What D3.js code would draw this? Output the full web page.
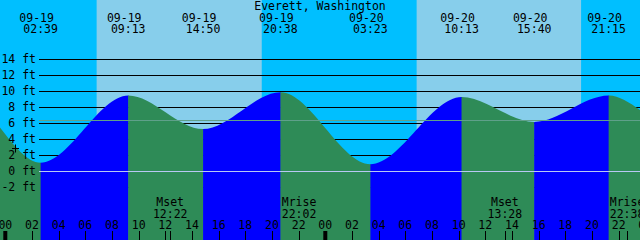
<!DOCTYPE html>
<html>
<head>
<meta charset="utf-8">
<script src="https://cdn.jsdelivr.net/npm/d3@7"></script>
<style>
  body { margin: 0; background: #fff; }
  svg { display: block; }
  text { font-family: "DejaVu Sans Mono", monospace; font-size: 11.5px; fill: #000; }
</style>
</head>
<body>
<div id="chart"></div>
<script>
// tide extremes (feet)
let tideDates = ["09-19", "09-19", "09-19", "09-19", "09-20", "09-20", "09-20", "09-20"];
let tideTimes = ["02:39", "09:13", "14:50", "20:38", "03:23", "10:13", "15:40", "21:15"];
let tideHeights = [1.1, 9.5, 5.3, 9.9, 0.9, 9.3, 6.2, 9.5];
// level where the curve leaves the left and right edges
let edgeHeights = [5.5, 7.7];

let sunrises = [["09-19", "06:51"], ["09-20", "06:51"]];
let sunsets = [["09-19", "19:14"], ["09-20", "19:11"]];

let moonEvents = ["Mset", "Mrise", "Mset", "Mrise"];
let moonDates = ["09-19", "09-19", "09-20", "09-20"];
let moonTimes = ["12:22", "22:02", "13:28", "22:38"];

let levelTicks = [14, 12, 10, 8, 6, 4, 2, 0, -2];
let meanLevel = 6.4;
let nowMark = ["09-19", "00:45", 3.0];

let width = 640, height = 240;

function toHours(date, time) {
  let day = +date.split("-")[1] - 19;
  let [hh, mm] = time.split(":").map(Number);
  return day * 24 + hh + mm / 60;
}

let x = d3.scaleLinear().domain([0, 48]).range([5.3, 645.3]);
let y = d3.scaleLinear().domain([0, 14]).range([171.5, 59.5]);

let svg = d3
  .select("#chart")
  .append("svg")
  .attr("width", width)
  .attr("height", height);

// sky: night everywhere, day between sunrise and sunset
svg.append("rect").attr("width", width).attr("height", height).attr("fill", "#00bfff");
sunrises.forEach((sr, i) => {
  let a = x(toHours(sr[0], sr[1]));
  let b = x(toHours(sunsets[i][0], sunsets[i][1]));
  svg.append("rect").attr("x", a).attr("y", 0).attr("width", b - a).attr("height", height).attr("fill", "#87ceeb");
});

// grid lines
levelTicks.forEach((lv) => {
  if (lv === 0) return;
  svg.append("line")
    .attr("x1", 39).attr("x2", width)
    .attr("y1", y(lv)).attr("y2", y(lv))
    .attr("stroke", "#000").attr("stroke-width", 1);
});

// tide curve
let points = [[x.invert(0), edgeHeights[0]]];
tideTimes.forEach((t, i) => points.push([toHours(tideDates[i], t), tideHeights[i]]));
points.push([x.invert(width), edgeHeights[1]]);

let area = d3.area()
  .x((d) => x(d[0]))
  .y0(height)
  .y1((d) => y(d[1]))
  .curve(d3.curveMonotoneX);

svg.append("clipPath").attr("id", "water")
  .append("path").attr("d", area(points));

let water = svg.append("g").attr("clip-path", "url(#water)");
for (let i = 0; i < points.length - 1; i++) {
  let a = x(points[i][0]), b = x(points[i + 1][0]);
  water.append("rect")
    .attr("x", a).attr("y", 0)
    .attr("width", b - a + 0.5).attr("height", height)
    .attr("fill", points[i + 1][1] > points[i][1] ? "#0000ff" : "#2e8b57");
}

// mean level and datum lines
svg.append("line")
  .attr("x1", 39).attr("x2", width)
  .attr("y1", Math.round(y(meanLevel)) + 0.5).attr("y2", Math.round(y(meanLevel)) + 0.5)
  .attr("stroke", "#5fa08a");
svg.append("line")
  .attr("x1", 39).attr("x2", width)
  .attr("y1", y(0)).attr("y2", y(0))
  .attr("stroke", "#b8c8f4");

// level labels
levelTicks.forEach((lv) => {
  svg.append("text")
    .attr("x", 36).attr("y", y(lv) + 3.5)
    .attr("text-anchor", "end")
    .text(lv + " ft");
});

// title
svg.append("text")
  .attr("x", 320).attr("y", 9.5)
  .attr("text-anchor", "middle")
  .text("Everett, Washington");

// extreme labels
tideTimes.forEach((t, i) => {
  let px = x(toHours(tideDates[i], t));
  svg.append("text").attr("x", px - 4).attr("y", 21.7).attr("text-anchor", "middle").text(tideDates[i]);
  svg.append("text").attr("x", px).attr("y", 33.3).attr("text-anchor", "middle").text(t);
});

// moon labels and ticks
moonTimes.forEach((t, i) => {
  let px = x(toHours(moonDates[i], t));
  svg.append("text").attr("x", px).attr("y", 206).attr("text-anchor", "middle").text(moonEvents[i]);
  svg.append("text").attr("x", px).attr("y", 218.3).attr("text-anchor", "middle").text(t);
  svg.append("line")
    .attr("x1", Math.round(px) + 0.5).attr("x2", Math.round(px) + 0.5)
    .attr("y1", 231).attr("y2", height)
    .attr("stroke", "#000");
});

// hour ticks
d3.range(0, 50, 2).forEach((h) => {
  let px = x(h);
  let midnight = h % 24 === 0;
  svg.append("text")
    .attr("x", px).attr("y", 229.3)
    .attr("text-anchor", "middle")
    .text(d3.format("02d")(h % 24));
  svg.append("line")
    .attr("x1", midnight ? px : Math.round(px) + 0.5)
    .attr("x2", midnight ? px : Math.round(px) + 0.5)
    .attr("y1", 231).attr("y2", height)
    .attr("stroke", "#000")
    .attr("stroke-width", midnight ? 4 : 1);
});

// current time marker
let mx = Math.round(x(toHours(nowMark[0], nowMark[1]))) + 0.5;
let my = Math.round(y(nowMark[2])) + 0.5;
svg.append("path")
  .attr("d", `M${mx - 3.5},${my}H${mx + 3.5}M${mx},${my - 4}V${my + 4}`)
  .attr("stroke", "#000");
</script>
</body>
</html>
